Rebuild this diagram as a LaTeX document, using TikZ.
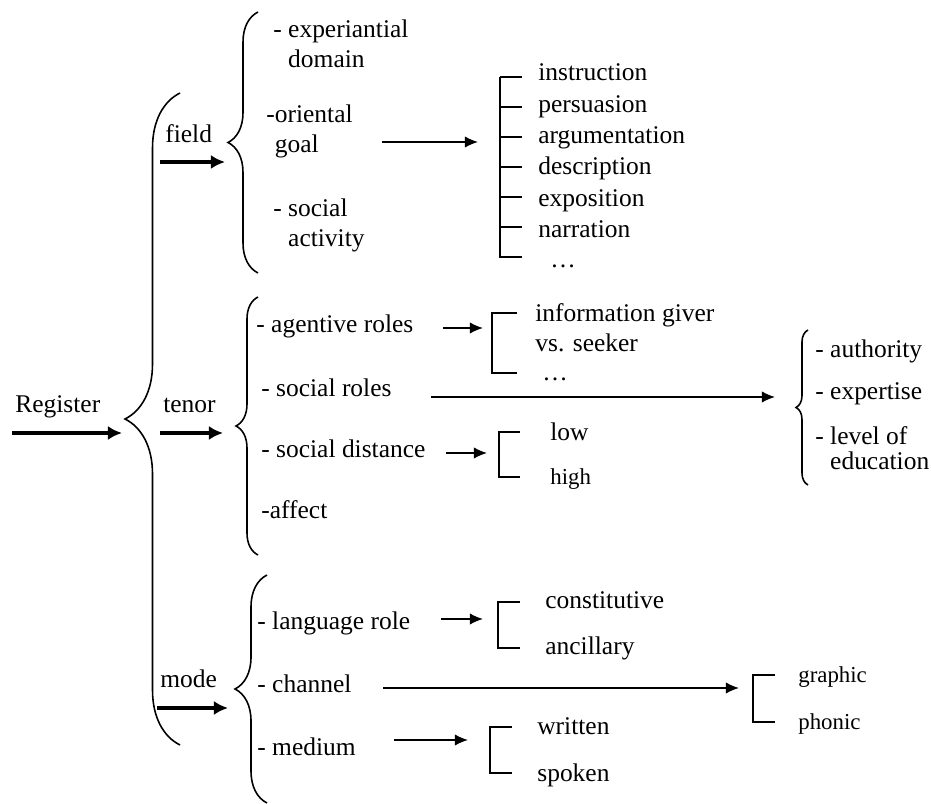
\documentclass[tikz,border=0pt]{standalone}
\usepackage{fontspec}
\setmainfont{Liberation Serif}
\usetikzlibrary{arrows.meta, decorations.pathreplacing, positioning}
\tikzset{
  item/.style={anchor=base west, inner sep=0pt, font=\fontsize{14.5}{17}\selectfont},
  smallitem/.style={item, font=\fontsize{13}{15}\selectfont},
  bigbrace/.style={decorate, decoration={brace, amplitude=#1}, line width=0.9pt},
  bracket/.style={line width=0.9pt},
  fatarrow/.style={-{Latex[length=8pt, width=8pt]}, line width=2.4pt},
  arrow/.style={-{Latex[length=7.5pt, width=6.5pt]}, line width=0.8pt},
}

\begin{document}
\begin{tikzpicture}[x=0.02cm, y=-0.02cm]
  \useasboundingbox (0,0) rectangle (931,804);

  % Main levels
  \node[item] (register) at (15,413) {Register};
  \node[item] (field) at (165,143) {field};
  \node[item] (tenor) at (163,413) {tenor};
  \node[item] (mode) at (160,687) {mode};

  % Field
  \node[item] (exp) at (273,38) {- experiantial};
  \node[item] (exp2) at (273,68) {\hphantom{- }domain};
  \node[item] (orient) at (266,123) {-oriental};
  \node[item] (orient2) at (266,153) {\hphantom{-}goal};
  \node[item] (activ) at (273,217) {- social};
  \node[item] (activ2) at (273,247) {\hphantom{- }activity};

  \foreach \g [count=\i from 0] in {instruction, persuasion, argumentation,
      description, exposition, narration} {
    \node[item] (genre\i) at (538,81+31.3*\i) {\g};
    \draw[bracket] (500,77+30*\i) -- (522,77+30*\i);
  }
  \node[item] (genredots) at (550,268) {\dots};
  \draw[bracket] (522,257) -| (500,77);

  % Tenor
  \node[item] (agent) at (256,333) {- agentive roles};
  \node[item] (roles) at (261,397) {- social roles};
  \node[item] (dist) at (261,458) {- social distance};
  \node[item] (affect) at (261,519) {-affect};

  \node[item] (giver) at (535,322) {information giver};
  \node[item] (seeker) at (535,352) {vs. seeker};
  \node[item] (giverdots) at (542,381) {\dots};
  \draw[bracket] (517,313) -| (492,373) -- (517,373);

  \node[item] (author) at (815,358) {- authority};
  \node[item] (expert) at (815,400) {- expertise};
  \node[item] (level) at (815,445) {- level of};
  \node[item] (level2) at (815,470) {\hphantom{- }education};

  \node[item] (low) at (550,441) {low};
  \node[smallitem] (high) at (550,485) {high};
  \draw[bracket] (520,432) -| (499,477) -- (520,477);

  % Mode
  \node[item] (lang) at (257,630) {- language role};
  \node[item] (chan) at (257,693) {- channel};
  \node[item] (medium) at (257,755) {- medium};

  \node[item] (const) at (545,609) {constitutive};
  \node[item] (ancil) at (545,655) {ancillary};
  \draw[bracket] (520,602) -| (498,648) -- (520,648);

  \node[smallitem] (graphic) at (798,683) {graphic};
  \node[smallitem] (phonic) at (798,729) {phonic};
  \draw[bracket] (775,675) -| (753,722) -- (775,722);

  \node[item] (written) at (537,734) {written};
  \node[item] (spoken) at (537,782) {spoken};
  \draw[bracket] (512,727) -| (490,773) -- (512,773);

  % Braces
  \draw[bigbrace=1.1cm] (180,745) -- (180,93);
  \draw[bigbrace=0.6cm] (258,273) -- (258,12);
  \draw[bigbrace=0.44cm] (258,555) -- (258,297);
  \draw[bigbrace=0.64cm] (267,803) -- (267,575);
  \draw[bigbrace=0.24cm] (808,485) -- (808,330);

  % Arrow ends
  \coordinate (reg-out) at (12,433);   \coordinate (reg-in) at (122,433);
  \coordinate (field-out) at (160,162); \coordinate (field-in) at (225,162);
  \coordinate (tenor-out) at (160,433); \coordinate (tenor-in) at (223,433);
  \coordinate (mode-out) at (157,708);  \coordinate (mode-in) at (228,708);
  \coordinate (goal-out) at (382,142);  \coordinate (genre-in) at (478,142);
  \coordinate (agent-out) at (443,328); \coordinate (giver-in) at (483,328);
  \coordinate (roles-out) at (431,397); \coordinate (author-in) at (775,397);
  \coordinate (dist-out) at (446,453);  \coordinate (low-in) at (487,453);
  \coordinate (lang-out) at (441,619);  \coordinate (const-in) at (483,619);
  \coordinate (chan-out) at (383,688);  \coordinate (graphic-in) at (739,688);
  \coordinate (medium-out) at (394,740); \coordinate (written-in) at (468,740);

  % Edges
  \draw[fatarrow] (reg-out) -- (reg-in);
  \draw[fatarrow] (field-out) -- (field-in);
  \draw[fatarrow] (tenor-out) -- (tenor-in);
  \draw[fatarrow] (mode-out) -- (mode-in);
  \draw[arrow] (goal-out) -- (genre-in);
  \draw[arrow] (agent-out) -- (giver-in);
  \draw[arrow] (roles-out) -- (author-in);
  \draw[arrow] (dist-out) -- (low-in);
  \draw[arrow] (lang-out) -- (const-in);
  \draw[arrow] (chan-out) -- (graphic-in);
  \draw[arrow] (medium-out) -- (written-in);

\end{tikzpicture}
\end{document}
